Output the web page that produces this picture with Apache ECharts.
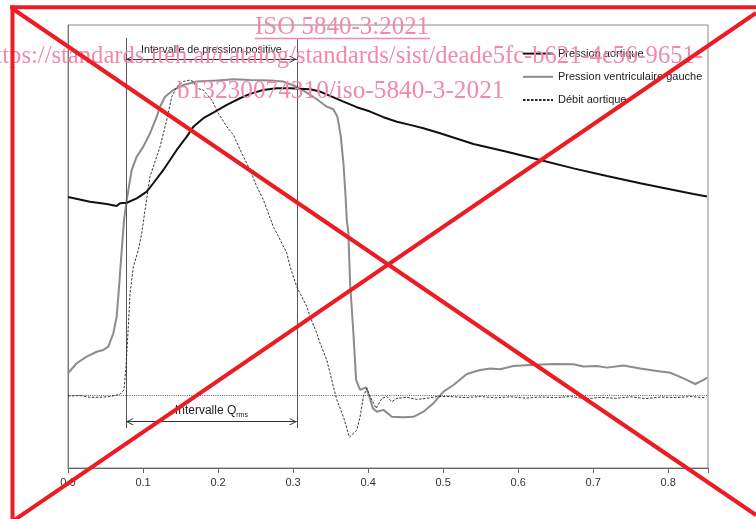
<!DOCTYPE html>
<html><head><meta charset="utf-8">
<script src="https://cdn.jsdelivr.net/npm/echarts@6/dist/echarts.min.js"></script>
<style>html,body{margin:0;padding:0;background:#fff}#c{width:756px;height:519px}</style>
</head><body><div id="c"></div>
<script>
// ---- data (time in s, pressure in mmHg, flow in arbitrary units on same scale) ----
const seriesNames = ['Pression aortique', 'Pression ventriculaire gauche', 'Débit aortique'];

const aorticT = [0.0,0.0293,0.0516,0.0649,0.0693,0.0783,0.0916,0.1049,0.1137,0.1271,0.1449,0.1583,0.1671,0.1804,0.1937,0.2116,0.2293,0.2427,0.26,0.2783,0.296,0.3227,0.336,0.3493,0.3671,0.3849,0.4027,0.4204,0.4383,0.456,0.4737,0.496,0.5404,0.5849,0.6293,0.6737,0.7183,0.7627,0.8071,0.8337,0.8516];
const aorticP = [77.4,75.6,74.7,73.9,75.0,75.2,76.9,79.5,82.8,88.0,95.8,101.0,104.9,108.2,110.4,113.4,116.0,117.7,119.2,119.9,119.9,119.5,118.6,116.9,114.7,112.5,110.8,108.6,106.8,105.6,104.3,102.3,98.1,95.1,91.9,88.6,85.6,82.8,80.2,78.6,77.6];

const lvT = [0.0,0.0116,0.0249,0.0383,0.0471,0.0537,0.0604,0.0649,0.0684,0.0716,0.0747,0.0783,0.0849,0.0916,0.1004,0.1093,0.1183,0.1227,0.1293,0.1404,0.1537,0.1716,0.1983,0.2204,0.2427,0.2693,0.2871,0.3049,0.3183,0.3316,0.3449,0.3537,0.3591,0.3636,0.3671,0.3697,0.3716,0.3737,0.376,0.3804,0.384,0.3893,0.3973,0.4017,0.4063,0.4116,0.4204,0.4316,0.4471,0.4604,0.4737,0.4871,0.5004,0.5137,0.5316,0.5493,0.5627,0.576,0.5937,0.616,0.6471,0.6737,0.6871,0.7049,0.7183,0.7404,0.7627,0.7849,0.8027,0.8204,0.836,0.8471,0.8516];
const lvP = [8.6,12.5,15.1,17.0,17.7,19.0,24.2,30.7,43.7,56.7,68.5,76.3,88.0,93.2,97.1,102.3,108.8,112.7,116.6,119.2,121.2,122.5,122.9,123.4,123.1,122.9,122.5,120.5,118.2,115.6,112.7,111.7,108.8,101.0,90.6,78.9,68.5,63.3,43.7,24.2,6.0,2.1,3.1,-0.5,-5.1,-6.4,-5.7,-8.4,-8.6,-8.4,-6.4,-3.1,1.4,4.0,8.3,9.9,10.5,10.2,11.4,11.8,12.2,12.1,11.2,11.4,10.8,11.6,10.5,9.5,8.8,6.6,4.4,6.0,6.9];

const flowT = [0.0,0.016,0.0293,0.0427,0.056,0.0693,0.0747,0.0773,0.0804,0.0827,0.0871,0.0937,0.0983,0.1027,0.1093,0.1227,0.1316,0.1383,0.1449,0.1537,0.1627,0.1671,0.1716,0.1804,0.1916,0.2004,0.2116,0.2204,0.2316,0.2427,0.2516,0.2604,0.2737,0.2783,0.2916,0.296,0.3049,0.3183,0.3227,0.3316,0.336,0.3449,0.3493,0.3537,0.3583,0.3671,0.3751,0.3849,0.3893,0.3937,0.3983,0.4027,0.4107,0.4183,0.4249,0.4316,0.4383,0.4516,0.4649,0.4783,0.4916,0.5093,0.53,0.55,0.57,0.59,0.61,0.63,0.65,0.67,0.69,0.71,0.73,0.75,0.77,0.79,0.81,0.83,0.85];
const flowQ = [-0.3,-0.1,-0.8,-0.8,-0.5,0.4,2.1,11.2,26.8,39.8,50.2,56.7,63.3,72.4,85.4,97.1,107.5,116.6,120.5,122.5,123.1,122.5,119.9,119.2,115.3,110.1,104.9,101.7,94.5,88.0,81.5,76.3,65.8,63.3,55.5,50.2,42.4,34.6,30.7,24.2,20.3,13.8,8.6,3.4,-1.8,-8.4,-16.4,-13.6,-8.4,-0.5,2.7,-0.5,-5.1,-1.2,-0.5,-2.5,-1.2,-0.8,-1.6,-1.2,-0.5,-0.5,-0.9,-0.5,-1.0,-0.6,-1.1,-0.7,-0.9,-0.5,-1.4,-0.8,-1.2,-0.6,-1.3,-0.7,-0.9,-0.5,-1.0];

// interval annotations (time, s)
const intervalStart = 0.0773;
const intervalEnd = 0.3049;
const intervalLabels = ['Intervalle de pression positive', 'Intervalle Q', 'rms'];

// axis range
const xMin = 0, xMax = 0.853, xStep = 0.1;
const yMin = -28.4, yMax = 144.6;
const vLineTop = 139.5, vLineBottom = -12.8, arrowTopY = 131.2, arrowBottomY = -10.3;

// ---- build ----
const pairs = (xs, ys) => xs.map((x, i) => [x, ys[i]]);
const FONT = '"Liberation Sans", Arial, sans-serif';
const chevron = 'path://M5,0L5.01,0L5,0.01Z M5,10 L10,19 L9,20 L5,12.4 L1,20 L0,19 Z';

const chart = echarts.init(document.getElementById('c'), null, {renderer: 'canvas'});
const option = {
  animation: false,
  backgroundColor: '#ffffff',
  grid: {left: 68, right: 48, top: 25, bottom: 51, show: true, borderColor: '#8a8a8a', borderWidth: 1, backgroundColor: 'transparent'},
  xAxis: {
    type: 'value', min: xMin, max: xMax, interval: xStep,
    axisLine: {show: true, onZero: false, lineStyle: {color: '#666', width: 1}},
    axisTick: {show: true, length: 5, lineStyle: {color: '#666'}},
    axisLabel: {
      formatter: v => Math.abs(v / xStep - Math.round(v / xStep)) < 1e-6 ? v.toFixed(1) : '',
      color: '#333', fontSize: 11, fontFamily: FONT, margin: 9
    },
    splitLine: {show: false}
  },
  yAxis: {
    type: 'value', min: yMin, max: yMax,
    axisLine: {show: true, lineStyle: {color: '#777'}},
    axisTick: {show: false}, axisLabel: {show: false}, splitLine: {show: false}
  },
  legend: {
    orient: 'vertical', left: 522, top: 48, padding: 0, itemWidth: 30, itemHeight: 14, itemGap: 12,
    itemStyle: {color: 'transparent', borderColor: 'transparent', borderWidth: 0, opacity: 0},
    textStyle: {fontSize: 11, color: '#222', fontFamily: FONT},
    data: seriesNames
  },
  series: [
    {
      name: seriesNames[0], type: 'line', symbol: 'none', showSymbol: false, z: 4,
      data: pairs(aorticT, aorticP),
      color: '#111', lineStyle: {color: '#111', width: 2}
    },
    {
      name: seriesNames[1], type: 'line', symbol: 'none', showSymbol: false, z: 3,
      data: pairs(lvT, lvP),
      color: '#8c8c8c', lineStyle: {color: '#8c8c8c', width: 2}
    },
    {
      name: seriesNames[2], type: 'line', symbol: 'none', showSymbol: false, z: 5,
      data: pairs(flowT, flowQ),
      color: '#222', lineStyle: {color: '#222', width: 0.9, type: [2.5, 1.5]},
      markLine: {
        silent: true, symbol: ['none', 'none'], animation: false,
        label: {show: false},
        data: [
          {yAxis: 0, lineStyle: {type: [1, 1.2], color: '#333', width: 0.8}, label: {show: false}},
          [{coord: [intervalStart, vLineTop], lineStyle: {type: 'solid', color: '#555', width: 1}}, {coord: [intervalStart, vLineBottom]}],
          [{coord: [intervalEnd, vLineTop], lineStyle: {type: 'solid', color: '#555', width: 1}}, {coord: [intervalEnd, vLineBottom]}],
          [{coord: [intervalStart, arrowTopY], symbol: chevron, symbolSize: [7, 15],
            lineStyle: {type: 'solid', color: '#333', width: 1},
            label: {show: true, position: 'insideMiddleTop', distance: 4, formatter: intervalLabels[0], color: '#222', fontSize: 10.7, fontFamily: FONT}},
           {coord: [intervalEnd, arrowTopY], symbol: chevron, symbolSize: [7, 15]}],
          [{coord: [intervalStart, arrowBottomY], symbol: chevron, symbolSize: [7, 15],
            lineStyle: {type: 'solid', color: '#333', width: 1},
            label: {show: true, position: 'insideMiddleTop', distance: 5,
              formatter: '{a|' + intervalLabels[1] + '}{b|' + intervalLabels[2] + '}',
              rich: {a: {fontSize: 12, color: '#222', fontFamily: FONT, verticalAlign: 'bottom'},
                     b: {fontSize: 7, color: '#222', fontFamily: FONT, verticalAlign: 'bottom', padding: [0, 0, -2, 0]}}}},
           {coord: [intervalEnd, arrowBottomY], symbol: chevron, symbolSize: [7, 15]}]
        ]
      }
    }
  ],
  graphic: [
    {type: 'text', z: 90, x: 255, y: 27.6, style: {text: 'ISO 5840-3:2021', font: '25px "Liberation Serif", "Times New Roman", serif', fill: '#f08aa8', align: 'left', verticalAlign: 'middle'}},
    {type: 'line', z: 90, shape: {x1: 255, y1: 38.5, x2: 430, y2: 38.5}, style: {stroke: '#f08aa8', lineWidth: 1.5}},
    {type: 'text', z: 90, x: 703, y: 56.6, style: {text: 'https://standards.iteh.ai/catalog/standards/sist/deade5fc-b621-4c56-9651-', font: '24.6px "Liberation Serif", "Times New Roman", serif', fill: '#f08aa8', align: 'right', verticalAlign: 'middle'}},
    {type: 'text', z: 90, x: 177, y: 91.6, style: {text: 'b13230074310/iso-5840-3-2021', font: '25.3px "Liberation Serif", "Times New Roman", serif', fill: '#f08aa8', align: 'left', verticalAlign: 'middle'}},
    {type: 'line', z: 100, shape: {x1: 10, y1: 7.3, x2: 756, y2: 7.3}, style: {stroke: '#ec1c24', lineWidth: 4}},
    {type: 'line', z: 100, shape: {x1: 12.5, y1: 5.5, x2: 12.5, y2: 519}, style: {stroke: '#ec1c24', lineWidth: 4}},
    {type: 'line', z: 100, shape: {x1: 13, y1: 9, x2: 756, y2: 515}, style: {stroke: '#ec1c24', lineWidth: 4}},
    {type: 'line', z: 100, shape: {x1: 13, y1: 521, x2: 756, y2: 13}, style: {stroke: '#ec1c24', lineWidth: 4}}
  ]
};
chart.setOption(option);
</script>
</body></html>
